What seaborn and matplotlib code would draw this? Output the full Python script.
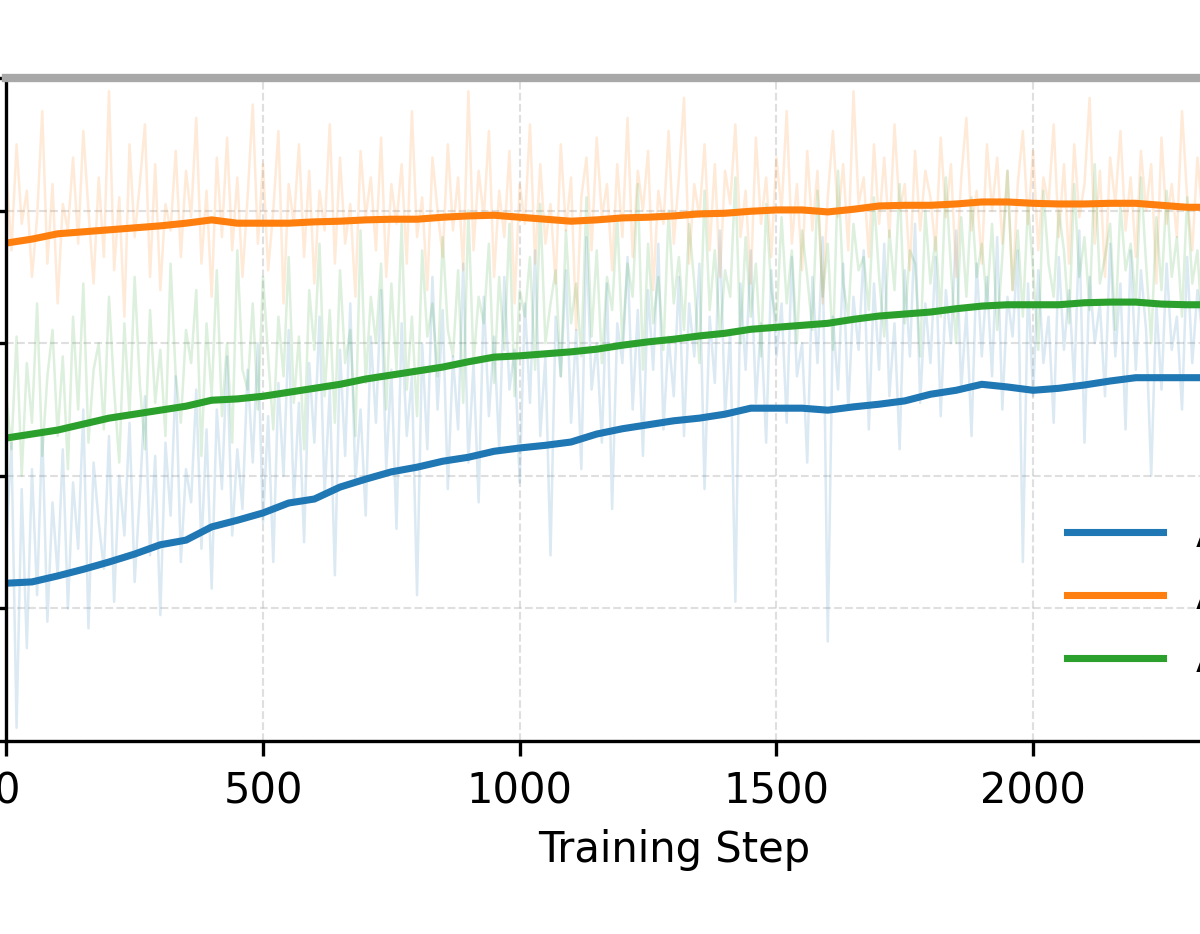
import matplotlib
matplotlib.use("Agg")
import matplotlib.pyplot as plt
import numpy as np
import pandas as pd
import seaborn as sns

# agents / legend labels
agents = ["Agent 1", "Agent 2", "Agent 3"]
colors = ["#1f77b4", "#ff7f0e", "#2ca02c"]

# smoothed curves, read every 50 steps
smooth_steps = list(range(0, 2351, 50))
smooth_blue = [.238, .240, .249, .259, .270, .282, .296, .303, .323, .333,
               .344, .359, .365, .383, .395, .406, .413, .422, .428, .437,
               .442, .446, .451, .463, .471, .477, .483, .487, .493, .502,
               .502, .502, .499, .504, .508, .513, .523, .529, .538, .534,
               .529, .532, .537, .543, .548, .548, .548, .548]
smooth_orange = [.751, .757, .765, .768, .771, .774, .777, .781, .786, .781,
                 .781, .781, .783, .784, .786, .787, .787, .790, .792, .793,
                 .790, .787, .784, .786, .789, .790, .792, .795, .796, .799,
                 .801, .801, .798, .802, .807, .808, .808, .810, .813, .813,
                 .811, .810, .810, .811, .811, .808, .805, .805]
smooth_green = [.457, .463, .469, .478, .487, .493, .499, .505, .514, .516,
                .520, .526, .532, .538, .546, .552, .558, .564, .572, .579,
                .581, .584, .587, .591, .597, .602, .606, .611, .615, .621,
                .624, .627, .630, .636, .641, .644, .647, .652, .656, .658,
                .658, .658, .661, .662, .662, .659, .658, .658]

# raw (unsmoothed) values, read every 10 steps
raw_steps = list(range(0, 2351, 10))
raw_blue = [
    .30, .45, .02, .38, .14, .41, .22, .47, .18, .36, .25, .44,
    .20, .39, .29, .50, .17, .42, .33, .26, .46, .21, .40, .31,
    .48, .24, .37, .52, .28, .43, .19, .45, .34, .55, .27, .41,
    .36, .53, .29, .47, .23, .50, .38, .58, .31, .44, .35, .56,
    .42, .60, .33, .49, .27, .54, .40, .62, .36, .51, .30, .57,
    .45, .64, .37, .53, .25, .59, .43, .66, .39, .50, .34, .61,
    .48, .68, .41, .56, .32, .63, .46, .55, .22, .60, .44, .70,
    .50, .65, .38, .58, .47, .72, .42, .57, .36, .67, .49, .61,
    .44, .70, .53, .59, .39, .66, .51, .74, .46, .58, .28, .64,
    .55, .71, .48, .62, .41, .76, .53, .60, .45, .69, .35, .63,
    .57, .73, .50, .65, .43, .68, .56, .75, .47, .61, .52, .70,
    .46, .66, .58, .72, .38, .64, .54, .77, .49, .62, .21, .69,
    .56, .74, .51, .63, .45, .71, .58, .66, .48, .73, .55, .60,
    .42, .70, .57, .76, .15, .64, .53, .72, .50, .67, .59, .74,
    .47, .69, .56, .75, .52, .63, .44, .71, .58, .78, .51, .66,
    .57, .73, .49, .68, .60, .77, .53, .65, .46, .72, .58, .70,
    .55, .76, .50, .67, .61, .74, .27, .69, .52, .71, .57, .64,
    .48, .73, .59, .68, .54, .77, .45, .70, .60, .66, .52, .75,
    .58, .69, .47, .74, .56, .71, .62, .40, .66, .53, .72, .59,
    .64, .50, .73, .57, .68, .61, .75, .55]
raw_orange = [
    .86, .74, .90, .78, .83, .70, .79, .95, .72, .84, .66, .81,
    .77, .88, .75, .92, .80, .69, .85, .73, .98, .71, .82, .64,
    .90, .76, .84, .93, .70, .87, .68, .81, .77, .89, .73, .86,
    .79, .94, .72, .83, .67, .88, .76, .91, .74, .85, .70, .82,
    .96, .75, .87, .71, .80, .92, .66, .84, .78, .90, .73, .86,
    .69, .83, .77, .93, .72, .88, .75, .81, .67, .89, .79, .85,
    .74, .91, .70, .84, .78, .87, .72, .95, .76, .82, .68, .88,
    .80, .73, .90, .77, .85, .71, .98, .74, .86, .79, .92, .70,
    .83, .76, .89, .66, .84, .78, .93, .72, .87, .75, .81, .69,
    .90, .77, .85, .62, .82, .88, .74, .91, .79, .84, .71, .87,
    .76, .94, .73, .86, .80, .89, .68, .83, .78, .92, .75, .85,
    .97, .72, .84, .79, .90, .74, .87, .70, .86, .81, .93, .76,
    .83, .69, .91, .78, .85, .73, .88, .80, .95, .75, .84, .71,
    .89, .77, .86, .66, .82, .92, .79, .87, .74, .98, .81, .85,
    .73, .90, .78, .88, .76, .93, .80, .84, .71, .89, .77, .86,
    .82, .74, .91, .79, .87, .70, .85, .94, .77, .83, .72, .90,
    .80, .88, .75, .86, .68, .84, .92, .78, .89, .74, .85, .81,
    .93, .76, .87, .72, .90, .79, .84, .97, .75, .86, .70, .88,
    .81, .92, .77, .85, .73, .89, .80, .87, .69, .91, .78, .84,
    .76, .95, .82, .74, .88, .79, .86, .72]
raw_green = [
    .52, .44, .61, .40, .57, .48, .66, .43, .55, .62, .46, .58,
    .41, .64, .50, .69, .45, .56, .60, .47, .67, .53, .42, .63,
    .49, .70, .54, .44, .65, .51, .59, .46, .72, .55, .48, .62,
    .57, .68, .43, .63, .52, .71, .49, .60, .45, .74, .56, .53,
    .66, .50, .70, .58, .47, .64, .55, .73, .51, .61, .44, .68,
    .59, .75, .52, .65, .48, .71, .57, .62, .46, .77, .54, .67,
    .60, .72, .50, .69, .56, .78, .53, .64, .49, .74, .61, .66,
    .55, .76, .62, .58, .71, .51, .80, .57, .67, .63, .75, .54,
    .70, .59, .78, .52, .68, .64, .73, .56, .81, .60, .66, .71,
    .55, .77, .63, .69, .58, .82, .61, .74, .57, .70, .65, .79,
    .60, .72, .67, .84, .56, .75, .63, .70, .59, .80, .66, .73,
    .62, .78, .69, .57, .83, .65, .74, .61, .71, .67, .85, .60,
    .76, .64, .72, .58, .81, .68, .63, .79, .66, .74, .60, .77,
    .70, .62, .83, .67, .75, .59, .86, .69, .64, .78, .71, .73,
    .65, .82, .70, .61, .77, .68, .84, .63, .74, .72, .58, .80,
    .69, .76, .64, .85, .71, .60, .79, .67, .82, .70, .75, .66,
    .78, .62, .73, .86, .68, .77, .64, .81, .71, .59, .83, .72,
    .67, .80, .74, .63, .84, .70, .76, .65, .87, .69, .73, .78,
    .62, .81, .71, .75, .66, .85, .72, .60, .79, .68, .83, .70,
    .76, .64, .82, .69, .74, .61, .80, .72]

raw_df = pd.DataFrame({
    "step": raw_steps * 3,
    "value": raw_blue + raw_orange + raw_green,
    "agent": sum([[a] * len(raw_steps) for a in agents], []),
})
smooth_df = pd.DataFrame({
    "step": smooth_steps * 3,
    "value": smooth_blue + smooth_orange + smooth_green,
    "agent": sum([[a] * len(smooth_steps) for a in agents], []),
})

fig = plt.figure(figsize=(4.0, 934 / 300), dpi=300)
ax = fig.add_axes([0.00525, 0.2066, 1.1124, 0.7099])

sns.lineplot(data=raw_df, x="step", y="value", hue="agent", palette=colors,
             estimator=None, alpha=0.16, linewidth=0.6, legend=False, ax=ax)
sns.lineplot(data=smooth_df, x="step", y="value", hue="agent", palette=colors,
             estimator=None, linewidth=1.7, ax=ax)

ax.set_xlim(0, 2600)
ax.set_ylim(0, 1)
ax.set_xticks([0, 500, 1000, 1500, 2000, 2500])
ax.set_yticks([0, 0.2, 0.4, 0.6, 0.8, 1.0])
ax.grid(True, linestyle="--", linewidth=0.5, alpha=0.4)
ax.set_xlabel("Training Step", fontsize=10)
ax.set_ylabel("")
ax.tick_params(labelsize=10)
ax.spines["top"].set_color("#a8a8a8")
ax.spines["top"].set_linewidth(2.0)

ax.legend(loc="upper left", bbox_to_anchor=(0.875, 0.468),
          bbox_transform=fig.transFigure, borderaxespad=0,
          frameon=False, handlelength=2.3, fontsize=10)

fig.savefig("out.png", dpi=300)
